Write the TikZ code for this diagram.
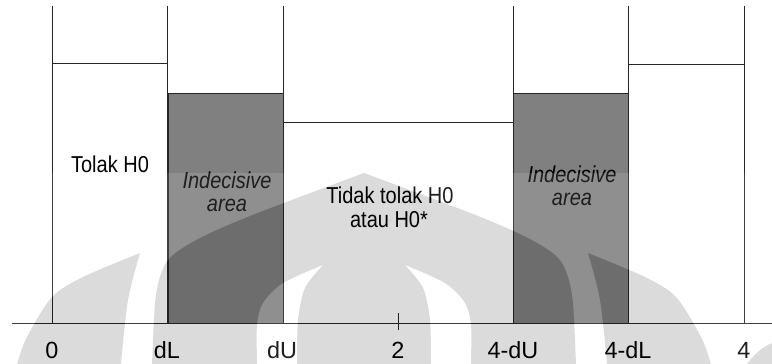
\documentclass[tikz,border=0pt]{standalone}
\usepackage{fontspec}
\setmainfont{Liberation Sans}
\begin{document}
% Watermark outlines (dome with two crescent cut-outs, two side wings, corner piece)
\newcommand\wmshapes{%
  plot[smooth] coordinates {(152,372) (152,364) (156,295) (168,260) (200,238) (255,214) (364,173)}
  -- plot[smooth] coordinates {(364,173) (473,214) (528,238) (560,260) (572,295) (576,364) (576,372)} -- cycle
  plot[smooth] coordinates {(297,372) (297,364) (298,320) (305,288) (323,265)}
  -- plot[smooth] coordinates {(323,265) (283,283) (263,303) (257,325) (257,364) (257,372)} -- cycle
  plot[smooth] coordinates {(431,372) (431,364) (430,320) (423,288) (405,265)}
  -- plot[smooth] coordinates {(405,265) (445,283) (465,303) (471,325) (471,364) (471,372)} -- cycle
  plot[smooth] coordinates {(121,372) (121,364) (128,300) (140,253)}
  -- plot[smooth] coordinates {(140,253) (83,277) (52,297) (27,337) (17,364) (15,372)} -- cycle
  plot[smooth] coordinates {(607,372) (607,364) (600,300) (588,253)}
  -- plot[smooth] coordinates {(588,253) (645,277) (676,297) (701,337) (711,364) (713,372)} -- cycle
  (742,372) .. controls (752,355) and (762,347) .. (774,342) -- (774,372) -- cycle}
% narrow (horizontally condensed) region text
\newcommand\narrowtxt[1]{\scalebox{0.87}[1]{#1}}
\begin{tikzpicture}[x=1pt,y=-1pt,
  rule/.style={line width=1pt, draw=black!85},
  whitebar/.style={rule, fill=white},
  darkbar/.style={rule, fill=black!50},
  lbl/.style={font=\fontsize{23}{27}\selectfont, anchor=base, inner sep=0pt},
  ilbl/.style={lbl, font=\fontsize{23}{27}\selectfont\itshape},
  ticklbl/.style={font=\fontsize{23.4}{28}\selectfont, anchor=base, inner sep=0pt}]
\useasboundingbox (0,0) rectangle (772,364);
\fill[white] (0,0) rectangle (772,364);

% vertical guide lines
\foreach \x in {52,167,283,513,628,744}
  \draw[rule] (\x,6) -- (\x,323);

% bars
\draw[whitebar] (52,63) rectangle (167,323);
\draw[darkbar] (168,93) rectangle (283,323);
\draw[whitebar] (283,122) rectangle (513,323);
\draw[darkbar] (513,93) rectangle (628,323);
\draw[whitebar] (628,64) rectangle (744,323);

% axis and tick
\draw[rule] (12,323) -- (772,323);
\draw[rule] (398,313) -- (398,330);

% region texts
\node[lbl] (tolak) at (110,172) {\narrowtxt{Tolak H0}};
\node[ilbl] (ind1) at (227,188) {\narrowtxt{Indecisive}};
\node[ilbl] (area1) at (227,211.5) {\narrowtxt{area}};
\node[lbl] (tidak) at (390,203) {\narrowtxt{Tidak tolak H0}};
\node[lbl] (atau) at (389,227) {\narrowtxt{atau H0*}};
\node[ilbl] (ind2) at (572,182) {\narrowtxt{Indecisive}};
\node[ilbl] (area2) at (572,205) {\narrowtxt{area}};

% axis labels
\node[ticklbl] (t0) at (52,358) {0};
\node[ticklbl] (tdl) at (167,358) {dL};
\node[ticklbl] (tdu) at (282,358) {dU};
\node[ticklbl] (t2) at (398,358) {2};
\node[ticklbl] (t4du) at (513,358) {4-dU};
\node[ticklbl] (t4dl) at (628,358) {4-dL};
\node[ticklbl] (t4) at (744,358) {4};

% watermark layer
\begin{scope}
  \clip (0,0) rectangle (772,364);
  \path[fill=white, fill opacity=0.12, even odd rule] (0,173) rectangle (774,372) \wmshapes;
  \path[fill=black, fill opacity=0.14, even odd rule] \wmshapes;
\end{scope}
\end{tikzpicture}
\end{document}
